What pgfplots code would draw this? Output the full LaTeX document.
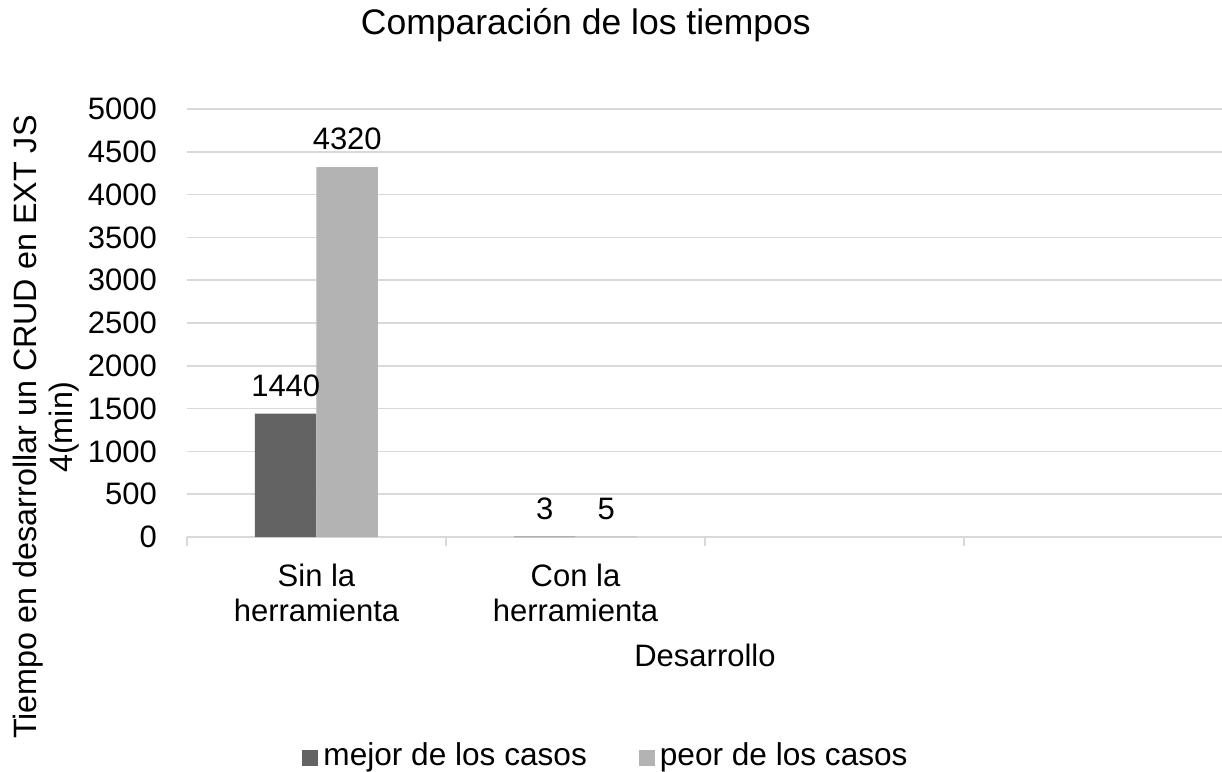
\documentclass[border=0pt]{standalone}
\usepackage{fontspec}
\setmainfont{Liberation Sans}
\usepackage{pgfplots}
\pgfplotsset{compat=1.18}
\definecolor{darkbar}{HTML}{636363}
\definecolor{lightbar}{HTML}{B3B3B3}
\definecolor{gridgray}{HTML}{D9D9D9}
\newcommand{\lf}{\fontsize{31}{35}\selectfont}
\begin{document}
\begin{tikzpicture}
\useasboundingbox (0,0) rectangle (1222pt,771pt);
\begin{axis}[
  at={(187pt,234pt)}, anchor=south west,
  scale only axis, width=1036pt, height=428pt,
  ybar=0pt, bar width=61.5pt,
  xmin=-0.5, xmax=3.5, ymin=0, ymax=5000,
  xtick={0,1},
  xticklabels={{Sin la\\herramienta},{Con la\\herramienta}},
  minor xtick={-0.5,0.5,1.5,2.5,3.5},
  ytick={0,500,...,5000},
  axis x line*=bottom, axis y line*=left,
  y axis line style={draw=none},
  x axis line style={draw=gridgray, line width=1.5pt},
  tick align=outside,
  major tick length=0pt,
  minor tick length=9pt,
  minor tick style={draw=gridgray, line width=1.5pt},
  ymajorgrids, grid style={draw=gridgray, line width=1.5pt},
  xmajorgrids=false,
  /pgf/number format/assume math mode=true,
  /pgf/number format/1000 sep={},
  tick label style={font=\lf, text=black},
  xticklabel style={align=center, inner sep=0pt, anchor=north, yshift=-27pt},
  yticklabel style={inner sep=0pt, anchor=east, xshift=-30pt},
  title={Comparación de los tiempos},
  title style={at={(axis description cs:0.385,1.1612)}, anchor=base, font=\fontsize{35.5}{40}\selectfont},
  xlabel={Desarrollo},
  xlabel style={at={(axis description cs:0.5,-0.3037)}, anchor=base, font=\lf, inner sep=0pt},
  ylabel={Tiempo en desarrollar un CRUD en EXT JS\\4(min)},
  ylabel style={at={(axis description cs:-0.136,0.257)}, anchor=center, rotate=0, align=center, font=\fontsize{32.3}{36}\selectfont, inner sep=0pt},
  nodes near coords,
  every node near coord/.append style={font=\lf, text=black, inner sep=0pt, anchor=south, yshift=17pt},
  legend columns=2,
  legend style={draw=none, fill=none, font=\fontsize{31.6}{35}\selectfont, at={(axis description cs:0.4035,-0.508)}, anchor=center,
    /tikz/every even column/.append style={column sep=52pt},
    nodes={inner sep=0pt}},
  legend image code/.code={\fill[#1] (0pt,-12pt) rectangle (16pt,4pt);},
]
\addplot[fill=darkbar, draw=none] coordinates {(0,1440) (1,3)};
\addlegendentry{\hspace{5pt}mejor de los casos}
\addplot[fill=lightbar, draw=none] coordinates {(0,4320) (1,5)};
\addlegendentry{\hspace{5pt}peor de los casos}
\end{axis}
\end{tikzpicture}
\end{document}
